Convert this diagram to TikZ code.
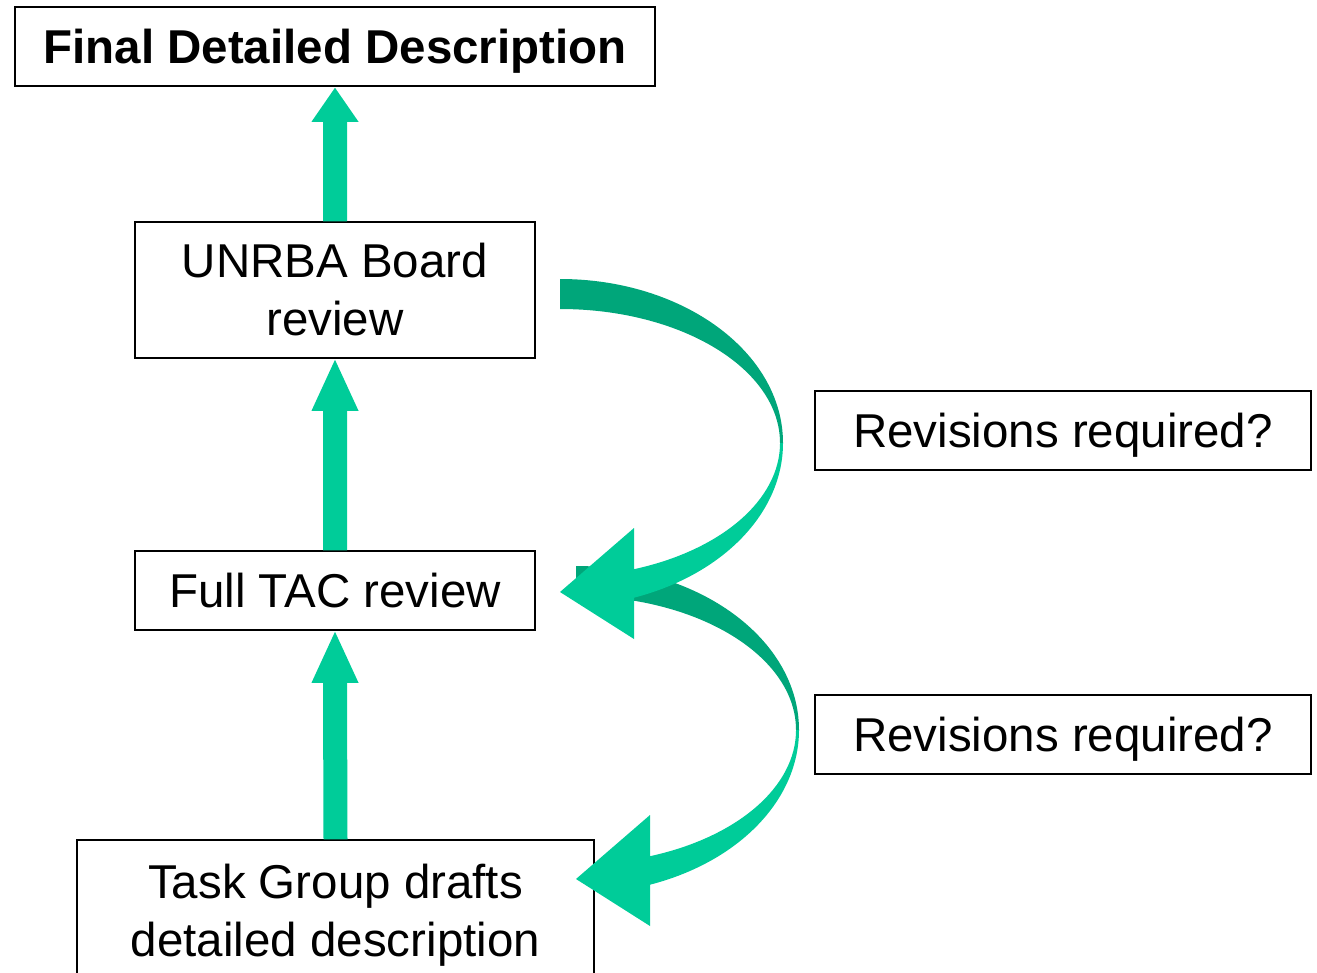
\documentclass[tikz,border=0pt]{standalone}
\usepackage{fontspec}
\setmainfont{Liberation Sans}
\usetikzlibrary{calc}
\definecolor{lightg}{RGB}{0,204,153}
\definecolor{darkg}{RGB}{0,166,122}
\tikzset{
  box/.style={draw=black, line width=1.5pt, fill=white, align=center, inner sep=0pt,
    font=\fontsize{47.5}{58}\selectfont},
  oneline/.style={text height=34pt, text depth=1pt},
}
\newcommand{\uparr}[3]{% #1 from node, #2 to node, #3 head length
  \fill[lightg] ($(#1.north)+(-12,0)$) -- ($(#2.south)+(-12,-#3-1)$) -- ($(#2.south)+(-23.5,-#3-1)$)
    -- ($(#2.south)+(0,-1)$) -- ($(#2.south)+(23.5,-#3-1)$) -- ($(#2.south)+(12,-#3-1)$)
    -- ($(#1.north)+(12,0)$) -- cycle;}
\newcommand{\cabdark}[1]{% #1 = centre coordinate
  \fill[darkg] ($(#1)+(0,164)$) arc[start angle=90,end angle=0,x radius=223pt,y radius=164pt]
    -- ($(#1)+(220,0)$) arc[start angle=0,end angle=90,x radius=220pt,y radius=134pt] -- cycle;}
\newcommand{\cablight}[1]{%
  \fill[lightg] ($(#1)+(223,0)$) arc[start angle=0,end angle=-70.62,x radius=223pt,y radius=164pt]
    -- ($(#1)+(74,-196)$) -- ($(#1)+(0,-149)$) -- ($(#1)+(74,-85)$) -- ($(#1)+(74,-126.2)$)
    arc[start angle=-70.35,end angle=0,x radius=220pt,y radius=134pt] -- cycle;}
\begin{document}
\begin{tikzpicture}[x=1pt,y=1pt]
\useasboundingbox (0,0) rectangle (1317,-972);
\clip (0,0) rectangle (1317,-972);
\node[box, oneline, font=\fontsize{47.5}{58}\selectfont\bfseries, minimum width=640, minimum height=79] (final) at (335,-46.5) {Final Detailed Description};
\node[box, minimum width=400, minimum height=136] (unrba) at (335,-290) {UNRBA Board\\review};
\node[box, oneline, minimum width=400, minimum height=79] (tac) at (335,-590.5) {Full TAC review};
\node[box, minimum width=517, minimum height=150] (task) at (335.5,-915) {Task Group drafts\\detailed description};
\node[box, oneline, minimum width=496, minimum height=79] (rev1) at (1063,-430.5) {Revisions required?};
\node[box, oneline, minimum width=496, minimum height=79] (rev2) at (1063,-734.5) {Revisions required?};
\uparr{unrba}{final}{34}
\uparr{tac}{unrba}{51}
\uparr{task}{tac}{51}
\coordinate (c1) at (560,-443);
\coordinate (c2) at (576,-730);
\cabdark{c1}
\cabdark{c2}
\cablight{c1}
\cablight{c2}
\end{tikzpicture}
\end{document}
